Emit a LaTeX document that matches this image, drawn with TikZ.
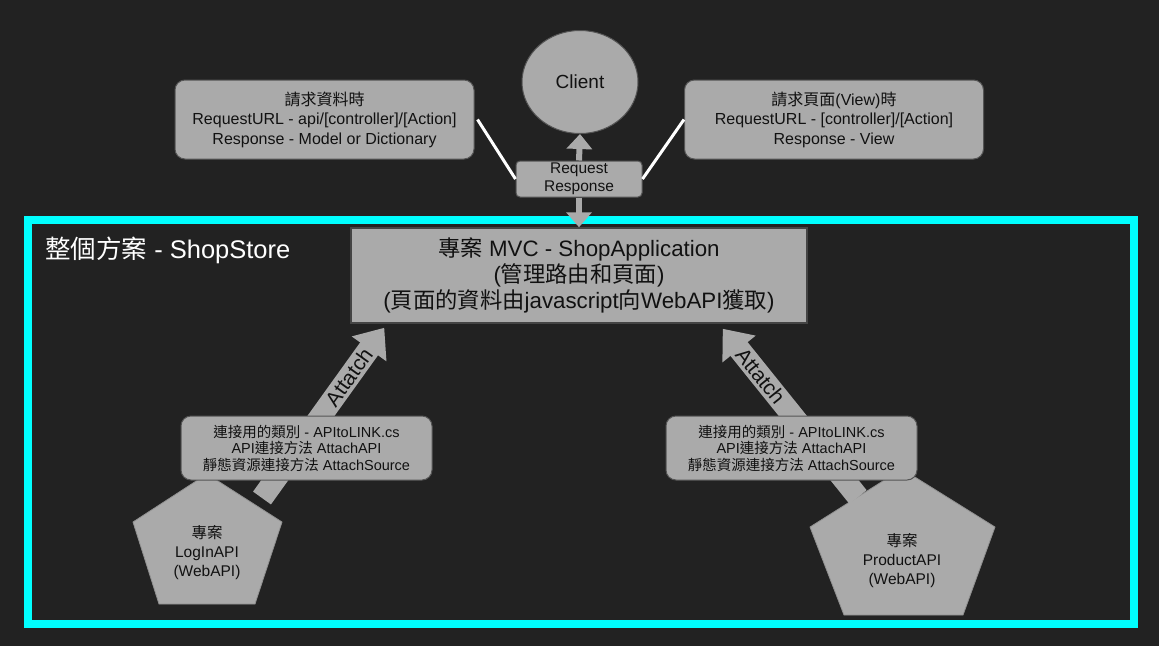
\documentclass[tikz,border=0pt]{standalone}
\usepackage{fontspec}
\setmainfont{Liberation Sans}
\newfontfamily\sscjk{Noto Sans CJK TC}
\newcommand{\zh}[1]{{\sscjk #1}}
\usepackage{xcolor}
\definecolor{ssbg}{HTML}{222222}
\definecolor{ssbox}{HTML}{AAAAAA}
\definecolor{ssedge}{HTML}{555555}
\definecolor{sscyan}{HTML}{00FFFF}
\definecolor{ssink}{HTML}{111111}
\usetikzlibrary{arrows.meta,calc,shapes.geometric}
\tikzset{
  ssnode/.style  ={rectangle, rounded corners=10pt, draw=ssedge, fill=ssbox,
                   line width=1pt, inner sep=0pt, align=center, text=ssink},
  ssinfo/.style  ={ssnode, minimum width=299pt, minimum height=79pt,
                   font=\fontsize{16}{19.5}\selectfont},
  sslink/.style  ={ssnode, minimum width=251pt, minimum height=64pt,
                   font=\fontsize{14.5}{16.5}\selectfont},
  ssmvc/.style   ={ssnode, rounded corners=0pt, line width=1.5pt, draw=ssedge!80!black,
                   minimum width=456pt, minimum height=95pt,
                   font=\fontsize{22.3}{26}\selectfont},
  ssreq/.style   ={ssnode, rounded corners=4pt, minimum width=126pt, minimum height=36pt,
                   font=\fontsize{15.5}{18}\selectfont},
  ssclient/.style={ellipse, draw=ssedge, fill=ssbox, line width=1pt, inner sep=0pt,
                   minimum width=116pt, minimum height=103pt, text=ssink,
                   font=\fontsize{19}{22}\selectfont},
  sspent/.style  ={fill=ssbox, draw=ssbox!85!black, line width=0.8pt},
  sspenttext/.style={align=center, text=ssink, inner sep=0pt,
                   font=\fontsize{15.5}{19}\selectfont},
  sstitle/.style ={text=white, inner sep=0pt, font=\fontsize{25.5}{29}\selectfont},
  ssframe/.style ={draw=sscyan, line width=8pt},
  sswire/.style  ={draw=white, line width=3pt},
  ssthin/.style  ={draw=ssbox, line width=6pt, -{Triangle[width=25pt,length=15pt]}},
  ssfat/.style   ={draw=ssbox, line width=22pt, -{Triangle[width=41pt,length=26pt]}},
  sslbl/.style   ={text=ssink, inner sep=0pt, font=\fontsize{21}{24}\selectfont},
}

\begin{document}
\begin{tikzpicture}[x=1pt, y=-1pt]
  \useasboundingbox[fill=ssbg] (0,0) rectangle (1159,646);
  \draw[ssframe] (28,220) rectangle (1134,624);
  \node[sstitle, anchor=west] (title) at (45,250) {\zh{整個方案} - ShopStore};

  \node[ssclient] (client) at (580,82) {Client};
  \node[ssreq] (req) at (579,179) {Request\\Response};
  \node[ssinfo] (dataq) at (324.5,119.5)
       {\zh{請求資料時}\\RequestURL - api/[controller]/[Action]\\Response - Model or Dictionary};
  \node[ssinfo] (viewq) at (834,119.5)
       {\zh{請求頁面}(View)\zh{時}\\RequestURL - [controller]/[Action]\\Response - View};
  \node[ssmvc] (mvc) at (579,275.5)
       {\zh{專案} MVC - ShopApplication\\(\zh{管理路由和頁面})\\(\zh{頁面的資料由}javascript\zh{向}WebAPI\zh{獲取})};
  \draw[sswire] ([xshift=3pt]dataq.east) -- (req.west);
  \draw[sswire] (viewq.west) -- (req.east);
  \draw[ssthin] (req.north) -- (client.south);
  \draw[ssthin] (req.south) -- (mvc.north);

  \path[sspent] (207,474) -- (282,522) -- (255,604) -- (159,604) -- (133,522) -- cycle;
  \node[sspenttext] (login) at (207,553) {\zh{專案}\\LogInAPI\\(WebAPI)};
  \path[sspent] (902,469) -- (995,527) -- (963,615) -- (844,615) -- (810,527) -- cycle;
  \node[sspenttext] (product) at (902,561) {\zh{專案}\\ProductAPI\\(WebAPI)};

  \coordinate (logintail) at (262,498);
  \coordinate (producttail) at (858,497);
  \draw[ssfat] (logintail) -- ([xshift=34pt, yshift=-4pt]mvc.south west)
       node[sslbl, pos=0.71, sloped] {Attatch};
  \draw[ssfat] (producttail) -- ([xshift=-85pt, yshift=-5pt]mvc.south east)
       node[sslbl, pos=0.72, sloped] {Attatch};

  \node[sslink] (loginlink) at (306.5,448)
       {\zh{連接用的類別} - APItoLINK.cs\\API\zh{連接方法} AttachAPI\\\zh{靜態資源連接方法} AttachSource};
  \node[sslink] (productlink) at (791.5,448)
       {\zh{連接用的類別} - APItoLINK.cs\\API\zh{連接方法} AttachAPI\\\zh{靜態資源連接方法} AttachSource};
\end{tikzpicture}
\end{document}
